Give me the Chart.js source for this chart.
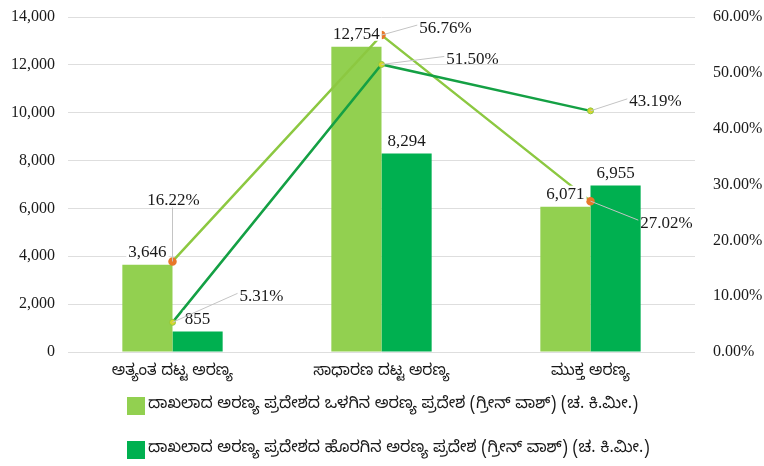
<!DOCTYPE html>
<html>
<head>
<meta charset="utf-8">
<script src="https://cdn.jsdelivr.net/npm/chart.js@4/dist/chart.umd.min.js"></script>
<style>
  html, body { margin: 0; padding: 0; background: #ffffff; }
  #wrap { width: 764px; height: 466px; }
</style>
</head>
<body>
<div id="wrap"><canvas id="c" width="764" height="466"></canvas></div>
<script>
// Forest cover by density class (sq. km) and each class's share
const categories = ['ಅತ್ಯಂತ ದಟ್ಟ ಅರಣ್ಯ', 'ಸಾಧಾರಣ ದಟ್ಟ ಅರಣ್ಯ', 'ಮುಕ್ತ ಅರಣ್ಯ'];
const seriesNames = [
  'ದಾಖಲಾದ ಅರಣ್ಯ ಪ್ರದೇಶದ ಒಳಗಿನ ಅರಣ್ಯ ಪ್ರದೇಶ (ಗ್ರೀನ್ ವಾಶ್) (ಚ. ಕಿ.ಮೀ.)',
  'ದಾಖಲಾದ ಅರಣ್ಯ ಪ್ರದೇಶದ ಹೊರಗಿನ ಅರಣ್ಯ ಪ್ರದೇಶ (ಗ್ರೀನ್ ವಾಶ್) (ಚ. ಕಿ.ಮೀ.)'
];
const insideArea = [3646, 12754, 6071];
const outsideArea = [855, 8294, 6955];
const insideShare = [16.22, 56.76, 27.02];
const outsideShare = [5.31, 51.50, 43.19];
const areaAxis = { min: 0, max: 14000, step: 2000 };
const shareAxis = { min: 0, max: 60, step: 10 };

const SERIF = "'Liberation Serif', 'Times New Roman', serif";
const KANNADA = "'Noto Sans Kannada', 'Noto Sans', sans-serif";
const LIGHT = '#92D050';
const DARK = '#00B050';

// where each percentage label sits relative to its point
const shareLabelPlacement = {
  2: [{ dx: 1, dy: -62, vertical: true }, { dx: 64, dy: -8 }, { dx: 76, dy: 21 }],
  3: [{ dx: 89, dy: -27 }, { dx: 91, dy: -6 }, { dx: 65, dy: -10 }]
};

const fmtArea = v => v.toLocaleString('en-US');
const fmtShare = v => v.toFixed(2) + '%';

const valueLabels = {
  id: 'valueLabels',
  afterDatasetsDraw(chart) {
    const ctx = chart.ctx;
    ctx.save();
    ctx.font = '17px ' + SERIF;
    ctx.textAlign = 'center';
    ctx.textBaseline = 'middle';
    // bar values above each bar
    [0, 1].forEach(di => {
      const meta = chart.getDatasetMeta(di);
      const data = chart.data.datasets[di].data;
      meta.data.forEach((bar, i) => {
        const txt = fmtArea(data[i]);
        const w = ctx.measureText(txt).width;
        const cx = bar.x, cy = bar.y - 13;
        ctx.fillStyle = '#ffffff';
        ctx.fillRect(cx - w / 2 - 2, cy - 8, w + 4, 15);
        ctx.fillStyle = '#1a1a1a';
        ctx.fillText(txt, cx, cy + 1);
      });
    });
    // share labels with leader lines
    [2, 3].forEach(di => {
      const meta = chart.getDatasetMeta(di);
      const data = chart.data.datasets[di].data;
      meta.data.forEach((pt, i) => {
        const p = shareLabelPlacement[di][i];
        const txt = fmtShare(data[i]);
        const w = ctx.measureText(txt).width;
        const cx = pt.x + p.dx, cy = pt.y + p.dy;
        ctx.strokeStyle = '#c4c4c4';
        ctx.lineWidth = 1;
        ctx.beginPath();
        ctx.moveTo(pt.x, pt.y);
        if (p.vertical) ctx.lineTo(pt.x, cy + 8);
        else ctx.lineTo(cx - w / 2 - 2, cy - 2);
        ctx.stroke();
        ctx.fillStyle = '#1a1a1a';
        ctx.fillText(txt, cx, cy + 1);
      });
    });
    ctx.restore();
  }
};

// legend for the two bar series, stacked in two rows under the axis
const barLegend = {
  id: 'barLegend',
  afterDraw(chart) {
    const ctx = chart.ctx;
    const area = chart.chartArea;
    const x0 = area.left + 59;
    const box = 18;
    const rows = [area.bottom + 45, area.bottom + 89];
    ctx.save();
    ctx.font = '16px ' + KANNADA;
    ctx.textAlign = 'left';
    ctx.textBaseline = 'middle';
    [0, 1].forEach((di, r) => {
      const ds = chart.data.datasets[di];
      ctx.fillStyle = ds.backgroundColor;
      ctx.fillRect(x0, rows[r], box, box);
      ctx.fillStyle = '#1a1a1a';
      ctx.fillText(ds.label, x0 + box + 3, rows[r] + box / 2);
    });
    ctx.restore();
  }
};

// value axes: fixed widths, no extra padding above the top tick
const fitValueAxis = width => s => { s.width = width; s.paddingTop = 0; s.paddingBottom = 0; };

new Chart(document.getElementById('c'), {
  data: {
    labels: categories,
    datasets: [
      { type: 'bar', label: seriesNames[0], data: insideArea, backgroundColor: LIGHT,
        yAxisID: 'y', order: 2, barPercentage: 1.0, categoryPercentage: 0.48 },
      { type: 'bar', label: seriesNames[1], data: outsideArea, backgroundColor: DARK,
        yAxisID: 'y', order: 3, barPercentage: 1.0, categoryPercentage: 0.48 },
      { type: 'line', label: 'inside share', data: insideShare, yAxisID: 'y1', order: 1,
        borderColor: '#8CC841', borderWidth: 2.5, tension: 0,
        pointRadius: 3, pointBackgroundColor: '#E8782A', pointBorderColor: '#E8782A' },
      { type: 'line', label: 'outside share', data: outsideShare, yAxisID: 'y1', order: 0,
        borderColor: '#14A044', borderWidth: 2.5, tension: 0,
        pointRadius: 3, pointBackgroundColor: '#D8D62C', pointBorderColor: '#8CC841', pointBorderWidth: 1 }
    ]
  },
  plugins: [valueLabels, barLegend],
  options: {
    responsive: false,
    animation: false,
    devicePixelRatio: 1,
    layout: { padding: { top: 17, left: 0, right: 0, bottom: 80 } },
    plugins: {
      tooltip: { enabled: false },
      legend: { display: false }
    },
    scales: {
      x: {
        grid: { display: false },
        border: { display: false },
        ticks: { color: '#1a1a1a', padding: 4, maxRotation: 0, font: { family: KANNADA, size: 15.5 } },
        afterFit: s => { s.height = 34; }
      },
      y: {
        position: 'left',
        min: areaAxis.min, max: areaAxis.max,
        grid: { color: '#dedede', drawTicks: false },
        border: { display: false },
        ticks: { stepSize: areaAxis.step, padding: 13, color: '#1a1a1a',
                 font: { family: SERIF, size: 16 }, callback: v => fmtArea(v) },
        afterFit: fitValueAxis(68)
      },
      y1: {
        position: 'right',
        min: shareAxis.min, max: shareAxis.max,
        grid: { display: false, drawTicks: false },
        border: { display: false },
        ticks: { stepSize: shareAxis.step, padding: 18, color: '#1a1a1a',
                 font: { family: SERIF, size: 16 }, callback: v => fmtShare(v) },
        afterFit: fitValueAxis(69)
      }
    }
  }
});
</script>
</body>
</html>
